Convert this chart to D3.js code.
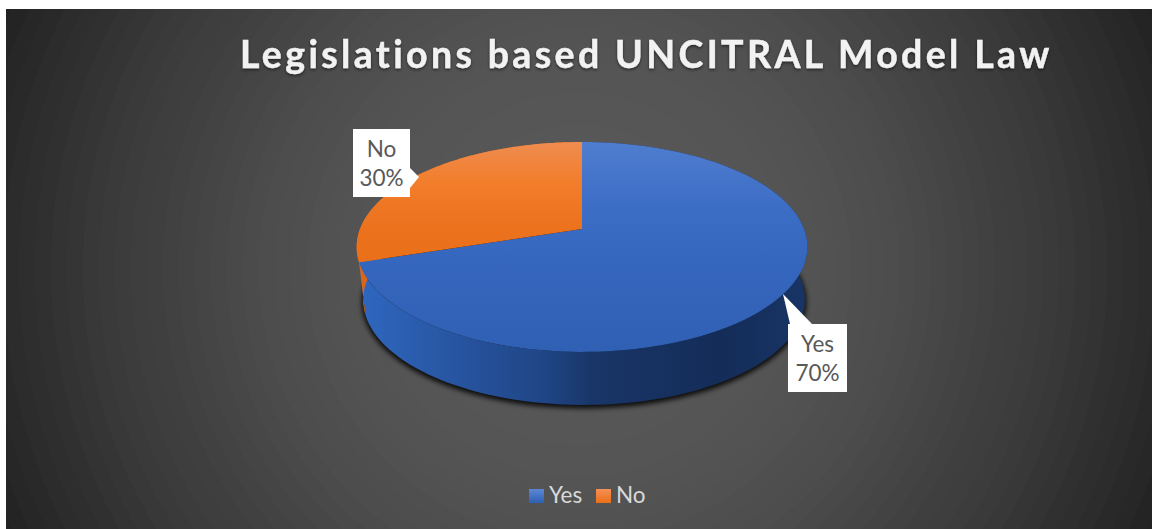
<!DOCTYPE html>
<html>
<head>
<meta charset="utf-8">
<script src="https://cdn.jsdelivr.net/npm/d3@7/dist/d3.min.js"></script>
<style>
  html, body { margin: 0; padding: 0; background: #fff; overflow: hidden; }
  svg { display: block; font-family: Lato, "Noto Sans", sans-serif; }
</style>
</head>
<body>
<svg id="chart" width="1152" height="529"></svg>
<script>
const chartTitle = "Legislations based UNCITRAL Model Law";
const categories = ["Yes", "No"];
const shares = [70, 30];

const W = 1152, H = 529;
const svg = d3.select("#chart");
const defs = svg.append("defs");

// Tilted disc: circle under a mild perspective so the hub sits above the ellipse middle
const hub = { x: 582, y: 229 };
const radiusX = 222, radiusY = 101.9, tilt = -0.171, depth = 53;
const baseShrink = 0.98, baseShift = 2;
const project = (angle, drop = 0) => {
  const along = -Math.cos(angle);
  const w = 1 + tilt * along;
  const spread = drop ? baseShrink : 1;
  const shift = drop ? baseShift : 0;
  return [hub.x + shift + radiusX * spread * Math.sin(angle) / w, hub.y + radiusY * along / w + drop];
};

const slices = d3.pie().sort(null).value(d => d.share)(
  categories.map((name, i) => ({ name, share: shares[i] }))
);
const rim = (slice, drop) => d3.range(0, 121).map(i =>
  project(slice.startAngle + (slice.endAngle - slice.startAngle) * i / 120, drop));
const line = d3.line();

// Helper for gradient definitions
function gradient(id, attrs, stops) {
  const g = defs.append("linearGradient").attr("id", id).attr("gradientUnits", "userSpaceOnUse");
  Object.entries(attrs).forEach(([k, v]) => g.attr(k, v));
  stops.forEach(([o, c]) => g.append("stop").attr("offset", o).attr("stop-color", c));
}
const vertical = { x1: 0, x2: 0, y1: 142, y2: 352 };
const horizontal = { x1: 357, x2: 808, y1: 0, y2: 0 };
gradient("topYes", vertical, [[0, "#4f7dcf"], [0.3, "#3d6ec6"], [0.6, "#3566bd"], [1, "#2f60b4"]]);
gradient("topNo", vertical, [[0, "#ee8c50"], [0.2, "#f27d2a"], [0.4, "#ec721e"], [0.6, "#ea6f18"], [1, "#e06a18"]]);
gradient("wallYes", horizontal, [[0, "#2f68c0"], [0.2, "#2856a3"], [0.42, "#1f4585"],
  [0.52, "#193668"], [0.8, "#142c58"], [1, "#183566"]]);
gradient("wallNo", horizontal, [[0, "#d9661a"], [1, "#b85a14"]]);
gradient("swatchYes", { x1: 0, x2: 0, y1: 489, y2: 503 }, [[0, "#5c87d4"], [1, "#2f60b4"]]);
gradient("swatchNo", { x1: 0, x2: 0, y1: 489, y2: 503 }, [[0, "#f59055"], [1, "#ea6f18"]]);

// Stepped radial backdrop, nearly flat around the disc and falling off towards the corners
const backdropRadius = 640;
const backdrop = defs.append("radialGradient").attr("id", "backdrop")
  .attr("gradientUnits", "userSpaceOnUse").attr("cx", 579).attr("cy", 269).attr("r", backdropRadius);
const shade = d3.scaleLinear().domain([0, 200, 300, 340, 480, 630, 640])
  .range([0x5a, 0x55, 0x4e, 0x49, 0x39, 0x22, 0x21]);
const bands = 40;
d3.range(bands).forEach(i => {
  const level = Math.round(shade((i + 0.5) / bands * backdropRadius));
  const c = d3.rgb(level, level, level).formatHex();
  backdrop.append("stop").attr("offset", i / bands).attr("stop-color", c);
  backdrop.append("stop").attr("offset", (i + 1) / bands).attr("stop-color", c);
});

const soft = defs.append("filter").attr("id", "soft")
  .attr("x", "-10%").attr("y", "-10%").attr("width", "120%").attr("height", "130%");
soft.append("feGaussianBlur").attr("stdDeviation", 2.5);

const titleGlow = defs.append("filter").attr("id", "titleShadow")
  .attr("x", "-5%").attr("y", "-30%").attr("width", "110%").attr("height", "170%");
titleGlow.append("feDropShadow").attr("dx", 0).attr("dy", 1.5).attr("stdDeviation", 1.5)
  .attr("flood-color", "#000").attr("flood-opacity", 0.55);

svg.append("rect").attr("x", 6).attr("y", 9).attr("width", W - 6).attr("height", H - 9)
  .attr("fill", "url(#backdrop)");

svg.append("text").attr("x", 240).attr("y", 68)
  .attr("font-size", 37.5).attr("font-weight", 700).attr("letter-spacing", 3.35)
  .attr("fill", "#f2f2f2").attr("stroke", "#f2f2f2").attr("stroke-width", 0.4)
  .attr("filter", "url(#titleShadow)")
  .text(chartTitle);

// Ground shadow beneath the disc
const outline = d3.range(0, 361).map(a => project(a * Math.PI / 180, depth + 2));
svg.append("path").attr("d", line(outline) + "Z").attr("fill", "#000").attr("stroke", "#000")
  .attr("stroke-width", 3).attr("opacity", 0.85).attr("filter", "url(#soft)");

const pie = svg.append("g");
pie.selectAll("path.wall").data(slices).join("path").attr("class", "wall")
  .attr("d", d => line(rim(d, 0).concat(rim(d, depth).reverse())) + "Z")
  .attr("fill", d => `url(#wall${d.data.name})`);
pie.selectAll("path.face").data(slices).join("path").attr("class", "face")
  .attr("d", d => line([[hub.x, hub.y], ...rim(d, 0)]) + "Z")
  .attr("fill", d => `url(#top${d.data.name})`);

// Callout boxes with a pointer towards their slice
const callouts = [
  { box: [353, 129, 57, 68], tail: [[410, 168], [419, 177], [410, 188]] },
  { box: [788, 324, 59, 68], tail: [[790, 324], [783, 294], [812, 324]] }
];
const callout = svg.selectAll("g.callout").data(slices.slice().reverse()).join("g").attr("class", "callout");
callout.each(function (d) {
  const spec = callouts[d.data.name === "No" ? 0 : 1];
  const [x, y, w, h] = spec.box;
  const g = d3.select(this);
  g.append("rect").attr("x", x).attr("y", y).attr("width", w).attr("height", h).attr("fill", "#fff");
  g.append("path").attr("d", line(spec.tail) + "Z").attr("fill", "#fff");
  [d.data.name, d.data.share + "%"].forEach((t, i) => {
    g.append("text").attr("x", x + w / 2).attr("y", y + 28 + i * 29)
      .attr("text-anchor", "middle").attr("font-size", 22.5).attr("fill", "#595959").text(t);
  });
});

// Legend row
const legendX = d3.scaleOrdinal().domain(categories).range([529, 596]);
const legend = svg.selectAll("g.key").data(categories).join("g").attr("class", "key");
legend.append("rect").attr("x", d => legendX(d)).attr("y", 489).attr("width", 15).attr("height", 14)
  .attr("fill", d => `url(#swatch${d})`);
legend.append("text").attr("x", d => legendX(d) + 20).attr("y", 503)
  .attr("font-size", 22.5).attr("fill", "#d9d9d9").text(d => d);
</script>
</body>
</html>
